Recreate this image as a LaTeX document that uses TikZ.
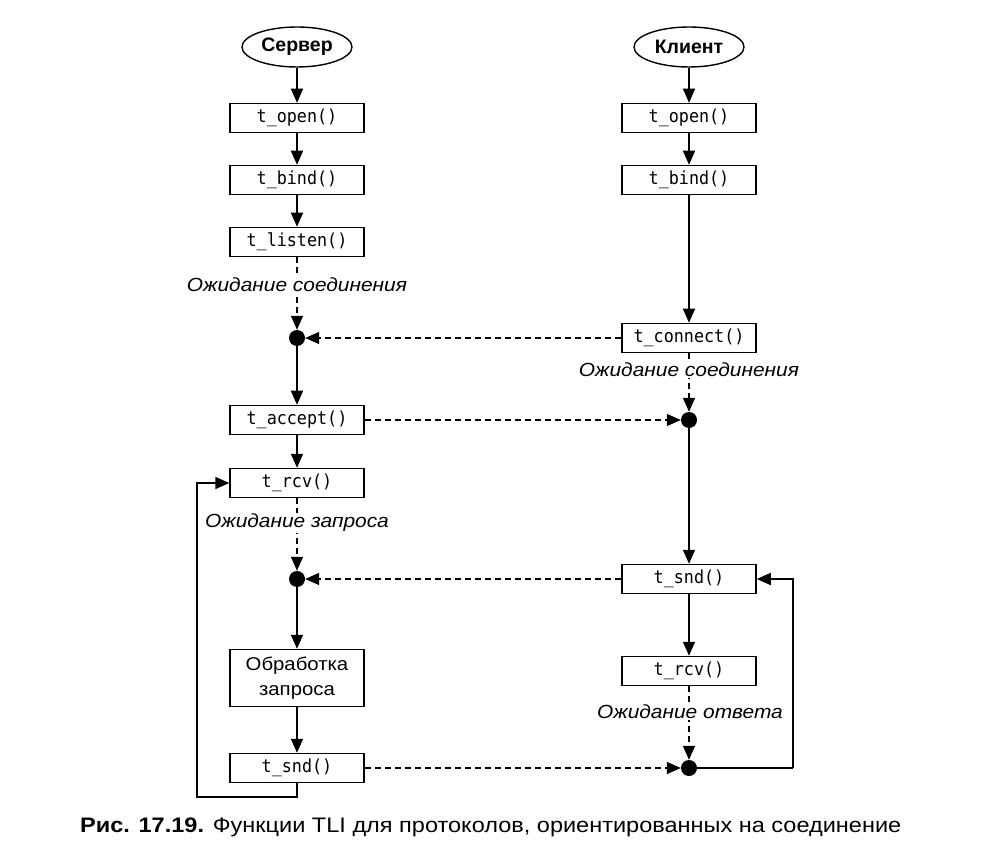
\documentclass[tikz,border=0pt]{standalone}
\usepackage{fontspec}
\setmainfont{Liberation Sans}
\newfontfamily\monof[FakeStretch=0.93]{DejaVu Sans Mono}
\newfontfamily\widef[FakeStretch=1.1]{Liberation Sans}
\newfontfamily\capf[FakeStretch=1.12]{Liberation Sans}
\usetikzlibrary{arrows.meta,shapes.geometric}
\begin{document}
\begin{tikzpicture}[x=1pt,y=-1pt,
  ell/.style={draw,ellipse,line width=1.4pt,minimum width=110pt,minimum height=40pt,inner sep=0pt,font=\fontsize{19.5}{22}\selectfont\bfseries},
  fbox/.style={draw,rectangle,line width=1.5pt,minimum width=134pt,minimum height=29pt,inner sep=0pt,font=\fontsize{18}{18}\selectfont\monof},
  tbox/.style={draw,rectangle,line width=1.5pt,minimum width=134pt,minimum height=57pt,inner sep=0pt,align=center,font=\fontsize{18.5}{25}\selectfont\widef},
  dot/.style={circle,fill=black,minimum size=16pt,inner sep=0pt},
  lbl/.style={fill=white,inner sep=1pt,font=\fontsize{19}{22}\selectfont\widef\itshape},
  arr/.style={line width=1.5pt,-{Triangle[length=14pt,width=12pt]}},
  darr/.style={line width=1.3pt,dash pattern=on 6pt off 4pt,-{Triangle[length=14pt,width=12pt]}},
  ln/.style={line width=1.5pt}]
\useasboundingbox (0,0) rectangle (988,858);
% server
\node[ell] (se) at (297,47) {Сервер};
\node[fbox] (so) at (297,118) {t\_open()};
\node[fbox] (sb) at (297,180) {t\_bind()};
\node[fbox] (sl) at (297,242) {t\_listen()};
\node[dot] (sd1) at (297,338) {};
\node[fbox] (sa) at (297,420) {t\_accept()};
\node[fbox] (sr) at (297,483) {t\_rcv()};
\node[dot] (sd2) at (297,579) {};
\node[tbox] (sp) at (297,678) {Обработка\\запроса};
\node[fbox] (ss) at (297,768) {t\_snd()};
% client
\node[ell] (ce) at (689,47) {Клиент};
\node[fbox] (co) at (689,118) {t\_open()};
\node[fbox] (cb) at (689,180) {t\_bind()};
\node[fbox] (cc) at (689,338) {t\_connect()};
\node[dot] (cd1) at (689,420) {};
\node[fbox] (cs) at (689,579) {t\_snd()};
\node[fbox] (cr) at (689,671) {t\_rcv()};
\node[dot] (cd2) at (689,768) {};
\coordinate (lp1) at (197,797);
\coordinate (lp2) at (793,768);
% server connectors
\draw[arr] (se) -- (so);
\draw[arr] (so) -- (sb);
\draw[arr] (sb) -- (sl);
\draw[darr] (sl) -- (sd1);
\node[lbl] (lw1) at (297,285) {Ожидание соединения};
\draw[arr] (sd1) -- (sa);
\draw[arr] (sa) -- (sr);
\draw[darr] (sr) -- (sd2);
\node[lbl] (lw2) at (297,523) {Ожидание запроса};
\draw[arr] (sd2) -- (sp);
\draw[arr] (sp) -- (ss);
\draw[arr] (ss.south) |- (lp1) |- (sr.west);
% client connectors
\draw[arr] (ce) -- (co);
\draw[arr] (co) -- (cb);
\draw[arr] (cb) -- (cc);
\draw[darr] (cc) -- (cd1);
\node[lbl] (lw3) at (689,370) {Ожидание соединения};
\draw[arr] (cd1) -- (cs);
\draw[arr] (cs) -- (cr);
\draw[darr] (cr) -- (cd2);
\node[lbl] (lw4) at (690,712) {Ожидание ответа};
\draw[ln] (cd2) -- (lp2);
\draw[arr] (lp2) |- (cs.east);
% cross connectors
\draw[darr] (cc.west) -- (sd1);
\draw[darr] (sa.east) -- (cd1);
\draw[darr] (cs.west) -- (sd2);
\draw[darr] (ss.east) -- (cd2);
% caption
\node[anchor=west,inner sep=0pt,font=\fontsize{21}{24}\selectfont\capf] (cap) at (80,827) {\textbf{Рис. 17.19.} Функции TLI для протоколов, ориентированных на соединение};
\end{tikzpicture}
\end{document}
